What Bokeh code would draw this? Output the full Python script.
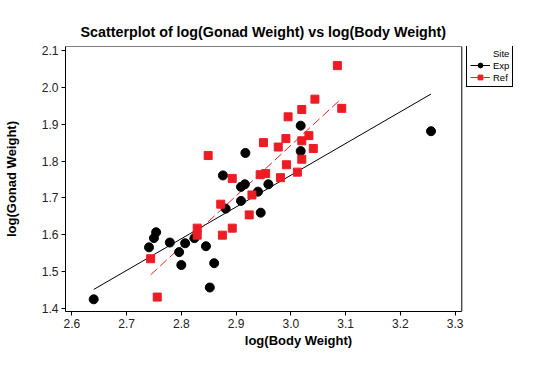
import numpy as np
from bokeh.plotting import figure
from bokeh.models import Range1d, Legend, LegendItem, FixedTicker, BoxAnnotation
from bokeh.embed import file_html
from bokeh.resources import INLINE

# --- data ---
exp_x = [2.640, 2.741, 2.750, 2.754, 2.779, 2.796, 2.800, 2.807, 2.824, 2.845, 2.852, 2.860,
         2.876, 2.881, 2.909, 2.909, 2.916, 2.917, 2.940, 2.945, 2.959, 3.018, 3.018, 3.256]
exp_y = [1.425, 1.566, 1.591, 1.607, 1.579, 1.553, 1.518, 1.577, 1.591, 1.569, 1.457, 1.523,
         1.761, 1.671, 1.692, 1.730, 1.737, 1.822, 1.717, 1.660, 1.737, 1.896, 1.827, 1.881]

ref_x = [2.744, 2.756, 2.829, 2.829, 2.849, 2.872, 2.875, 2.893, 2.893, 2.924, 2.929, 2.944,
         2.954, 2.950, 2.977, 2.981, 2.992, 2.995, 2.991, 3.012, 3.020, 3.020, 3.020, 3.033,
         3.041, 3.044, 3.085, 3.093]
ref_y = [1.535, 1.431, 1.618, 1.599, 1.815, 1.683, 1.599, 1.753, 1.618, 1.654, 1.708, 1.763,
         1.766, 1.850, 1.838, 1.755, 1.790, 1.920, 1.861, 1.770, 1.940, 1.855, 1.805, 1.869,
         1.834, 1.968, 2.059, 1.943]

x_ticks = [2.6, 2.7, 2.8, 2.9, 3.0, 3.1, 3.2, 3.3]
x_tick_labels = ["2.6", "2.7", "2.8", "2.9", "3.0", "3.1", "3.2", "3.3"]
y_ticks = [1.4, 1.5, 1.6, 1.7, 1.8, 1.9, 2.0, 2.1]
y_tick_labels = ["1.4", "1.5", "1.6", "1.7", "1.8", "1.9", "2.0", "2.1"]

groups = ["Exp", "Ref"]
title_text = "Scatterplot of log(Gonad Weight) vs log(Body Weight)"
x_label = "log(Body Weight)"
y_label = "log(Gonad Weight)"
legend_title = "Site"

# axis extents of the data box
x_lo, x_hi = 2.5885, 3.3122
y_lo, y_hi = 1.3919, 2.1108

RED = "#ED1C24"
FONT = "Liberation Sans"

# the canvas area extends to the right so the legend can sit beside the data box
p = figure(width=531, height=350, output_backend="svg", toolbar_location=None,
           x_range=Range1d(x_lo, 3.4395), y_range=Range1d(y_lo, y_hi),
           min_border_left=63, min_border_right=0, min_border_top=46, min_border_bottom=37,
           title=title_text)

p.title.text_font = FONT
p.title.text_font_size = "14.3px"
p.title.text_font_style = "bold"
p.title.align = "left"
p.title.offset = 15
p.title.text_color = "black"
p.title.standoff = 14

p.xgrid.visible = False
p.ygrid.visible = False
p.outline_line_color = None
p.background_fill_color = "white"
p.border_fill_color = "white"

for ax in (p.xaxis[0], p.yaxis[0]):
    ax.axis_line_color = "black"
    ax.major_tick_line_color = "black"
    ax.major_tick_out = 4
    ax.major_tick_in = 0
    ax.minor_tick_line_color = None
    ax.major_label_text_font = FONT
    ax.major_label_text_font_size = "12px"
    ax.major_label_text_color = "#222222"
    ax.axis_label_text_font = FONT
    ax.axis_label_text_font_size = "13px"
    ax.axis_label_text_font_style = "bold"
    ax.axis_label_text_color = "black"

p.xaxis.bounds = (x_lo, x_hi)
p.xaxis.ticker = FixedTicker(ticks=x_ticks)
p.xaxis.major_label_overrides = dict(zip(x_ticks, x_tick_labels))
p.yaxis.ticker = FixedTicker(ticks=y_ticks)
p.yaxis.major_label_overrides = dict(zip(y_ticks, y_tick_labels))
p.xaxis.axis_label = x_label
p.yaxis.axis_label = y_label
p.xaxis.major_label_standoff = 3
p.yaxis.major_label_standoff = 3
p.xaxis.axis_label_standoff = 2
p.yaxis.axis_label_standoff = 20

# data box outline
p.add_layout(BoxAnnotation(left=x_lo, right=x_hi, bottom=y_lo, top=y_hi,
                           fill_alpha=0, line_color="black", line_alpha=1.0,
                           line_width=1, level="underlay"))

# fitted lines computed from the data
def fit(xs, ys):
    b, a = np.polyfit(xs, ys, 1)
    lx = [min(xs), max(xs)]
    return lx, [a + b * v for v in lx]

ex_lx, ex_ly = fit(exp_x, exp_y)
rf_lx, rf_ly = fit(ref_x, ref_y)

exp_line = p.line(ex_lx, ex_ly, line_color="black", line_width=1)
ref_line = p.line(rf_lx, rf_ly, line_color=RED, line_width=1, line_dash="9 4")
exp_pts = p.scatter(exp_x, exp_y, marker="circle", size=9, fill_color="black", line_color="black")
ref_pts = p.scatter(ref_x, ref_y, marker="square", size=8, fill_color=RED, line_color=RED)
dummy = p.scatter(x=[], y=[], marker="circle", size=1, fill_alpha=0, line_alpha=0)

legend = Legend(items=[LegendItem(label=legend_title, renderers=[dummy]),
                       LegendItem(label=groups[0], renderers=[exp_line, exp_pts]),
                       LegendItem(label=groups[1], renderers=[ref_line, ref_pts])],
                location=(401, 224), padding=3, spacing=0, margin=0,
                glyph_width=20, glyph_height=12, label_height=12, label_standoff=3,
                label_width=0,
                label_text_font=FONT, label_text_font_size="9.5px", label_text_color="black",
                border_line_color="black", border_line_alpha=1.0, border_line_width=1,
                background_fill_color="white", background_fill_alpha=1)
p.add_layout(legend)

open("out.html", "w").write(file_html(p, INLINE))
